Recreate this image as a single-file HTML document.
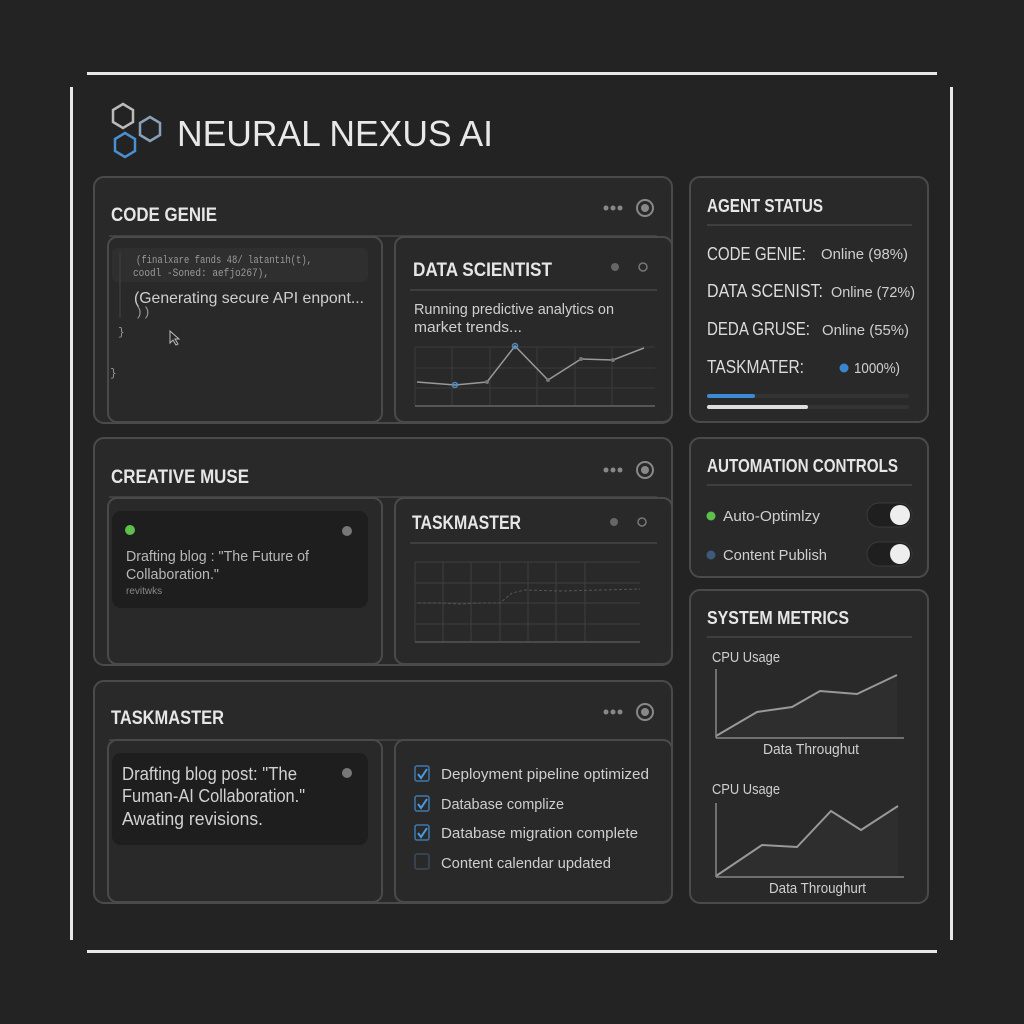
<!DOCTYPE html>
<html><head><meta charset="utf-8"><style>
html,body{margin:0;padding:0;background:#232323;}
svg{display:block}
text{font-family:"Liberation Sans","DejaVu Sans",sans-serif;fill:#d8d8d8}
.t{font-weight:bold;font-size:19px;fill:#e6e6e6}
.s{font-size:15px;fill:#cfcfcf}
.c{font-family:"Liberation Mono",monospace;font-size:11px;fill:#9a9a9a}
</style></head><body>
<svg width="1024" height="1024" viewBox="0 0 1024 1024">
<rect width="1024" height="1024" fill="#232323"/>
<g fill="#e8e8e8">
<rect x="87" y="72" width="850" height="3"/>
<rect x="87" y="950" width="850" height="3"/>
<rect x="70" y="87" width="3" height="853"/>
<rect x="950" y="87" width="3" height="853"/>
</g>
<g fill="none" stroke-width="2.5">
<polygon points="123,104 133,110 133,122 123,128 113,122 113,110" stroke="#bbbbbb"/>
<polygon points="150,117 160,123 160,135 150,141 140,135 140,123" stroke="#8aa0b8"/>
<polygon points="125,133 135,139 135,151 125,157 115,151 115,139" stroke="#4a90d0"/>
</g>
<text x="177" y="146" textLength="316" lengthAdjust="spacingAndGlyphs" style="font-size:36px;fill:#e8e8e8">NEURAL NEXUS AI</text>

<g fill="#292929" stroke="#4a4a4a" stroke-width="2">
<rect x="94" y="177" width="578" height="246" rx="10"/>
<rect x="94" y="438" width="578" height="227" rx="10"/>
<rect x="94" y="681" width="578" height="222" rx="10"/>
<rect x="690" y="177" width="238" height="245" rx="10"/>
<rect x="690" y="438" width="238" height="139" rx="10"/>
<rect x="690" y="590" width="238" height="313" rx="10"/>
</g>
<g stroke="#474747" stroke-width="1.5">
<line x1="109" y1="236" x2="657" y2="236"/>
<line x1="109" y1="497" x2="657" y2="497"/>
<line x1="109" y1="740" x2="657" y2="740"/>
<line x1="707" y1="225" x2="912" y2="225"/>
<line x1="707" y1="485" x2="912" y2="485"/>
<line x1="707" y1="637" x2="912" y2="637"/>
</g>
<g fill="#292929" stroke="#4a4a4a" stroke-width="2">
<rect x="108" y="237" width="274" height="185" rx="9"/>
<rect x="395" y="237" width="277" height="185" rx="9"/>
<rect x="108" y="498" width="274" height="166" rx="9"/>
<rect x="395" y="498" width="277" height="166" rx="9"/>
<rect x="108" y="740" width="274" height="162" rx="9"/>
<rect x="395" y="740" width="277" height="162" rx="9"/>
</g>
<text class="t" x="111" y="221" textLength="106" lengthAdjust="spacingAndGlyphs">CODE GENIE</text>
<text class="t" x="111" y="483" textLength="138" lengthAdjust="spacingAndGlyphs">CREATIVE MUSE</text>
<text class="t" x="111" y="724" textLength="113" lengthAdjust="spacingAndGlyphs">TASKMASTER</text>
<g fill="#888">
<circle cx="606" cy="208" r="2.5"/><circle cx="613" cy="208" r="2.5"/><circle cx="620" cy="208" r="2.5"/>
<circle cx="606" cy="470" r="2.5"/><circle cx="613" cy="470" r="2.5"/><circle cx="620" cy="470" r="2.5"/>
<circle cx="606" cy="712" r="2.5"/><circle cx="613" cy="712" r="2.5"/><circle cx="620" cy="712" r="2.5"/>
<circle cx="645" cy="208" r="4"/><circle cx="645" cy="470" r="4"/><circle cx="645" cy="712" r="4"/>
</g>
<g fill="none" stroke="#888" stroke-width="2">
<circle cx="645" cy="208" r="8"/><circle cx="645" cy="470" r="8"/><circle cx="645" cy="712" r="8"/>
</g>
<rect x="112" y="248" width="256" height="34" rx="6" fill="#2f2f2f"/>
<line x1="120" y1="252" x2="120" y2="318" stroke="#3c3c3c" stroke-width="1.5"/>
<text class="c" x="136" y="263" textLength="176" lengthAdjust="spacingAndGlyphs">(finalxare fands 48/ latantıh(t),</text>
<text class="c" x="133" y="276" textLength="136" lengthAdjust="spacingAndGlyphs">coodl -Soned: aefjo267),</text>
<text x="134" y="303" textLength="230" lengthAdjust="spacingAndGlyphs" style="font-size:16px;fill:#cfcfcf">(Generating secure API enpont...</text>
<text class="c" x="135" y="316" style="font-size:13px">))</text>
<text class="c" x="118" y="335">}</text>
<text class="c" x="110" y="376">}</text>
<path d="M170,331 L170,343 L173,340 L176,345 L178,344 L175,339 L179,339 Z" fill="none" stroke="#bbb" stroke-width="1"/>
<text class="t" x="413" y="276" textLength="139" lengthAdjust="spacingAndGlyphs">DATA SCIENTIST</text>
<circle cx="615" cy="267" r="4" fill="#666"/><circle cx="643" cy="267" r="4" fill="none" stroke="#777" stroke-width="1.5"/>
<line x1="410" y1="290" x2="657" y2="290" stroke="#474747" stroke-width="1.5"/>
<text class="s" x="414" y="314" textLength="200" lengthAdjust="spacingAndGlyphs">Running predictive analytics on</text>
<text class="s" x="414" y="332" textLength="108" lengthAdjust="spacingAndGlyphs">market trends...</text>
<g stroke="#3a3a3a" stroke-width="1">
<line x1="415" y1="347" x2="655" y2="347"/><line x1="415" y1="368" x2="655" y2="368"/><line x1="415" y1="388" x2="655" y2="388"/>
<line x1="415" y1="347" x2="415" y2="406"/><line x1="452" y1="347" x2="452" y2="406"/><line x1="490" y1="347" x2="490" y2="406"/><line x1="537" y1="347" x2="537" y2="406"/><line x1="575" y1="347" x2="575" y2="406"/><line x1="612" y1="347" x2="612" y2="406"/>
</g>
<line x1="415" y1="406" x2="655" y2="406" stroke="#666" stroke-width="1.5"/>
<polyline points="417,382 455,385 487,382 515,346 548,380 581,359 613,360 644,348" fill="none" stroke="#999" stroke-width="1.5"/>
<g fill="none" stroke="#4a8ac8" stroke-width="1.5"><circle cx="455" cy="385" r="2.5"/><circle cx="515" cy="346" r="2.5"/></g>
<g fill="#777"><circle cx="487" cy="382" r="2"/><circle cx="548" cy="380" r="2"/><circle cx="581" cy="359" r="2"/><circle cx="613" cy="360" r="2"/></g>
<rect x="112" y="511" width="256" height="97" rx="9" fill="#1e1e1e"/>
<circle cx="130" cy="530" r="5" fill="#5cc04a"/><circle cx="347" cy="531" r="5" fill="#777"/>
<text x="126" y="561" textLength="183" lengthAdjust="spacingAndGlyphs" style="font-size:15px;fill:#b8b8b8">Drafting blog : "The Future of</text>
<text x="126" y="579" textLength="93" lengthAdjust="spacingAndGlyphs" style="font-size:15px;fill:#b8b8b8">Collaboration."</text>
<text x="126" y="594" style="font-size:10px;fill:#888">revitwks</text>
<text class="t" x="412" y="529" textLength="109" lengthAdjust="spacingAndGlyphs">TASKMASTER</text>
<circle cx="614" cy="522" r="4" fill="#666"/><circle cx="642" cy="522" r="4" fill="none" stroke="#777" stroke-width="1.5"/>
<line x1="410" y1="543" x2="657" y2="543" stroke="#474747" stroke-width="1.5"/>
<g stroke="#3e3e3e" stroke-width="1">
<line x1="415" y1="562" x2="640" y2="562"/><line x1="415" y1="583" x2="640" y2="583"/><line x1="415" y1="603" x2="640" y2="603"/><line x1="415" y1="624" x2="640" y2="624"/>
<line x1="415" y1="562" x2="415" y2="642"/><line x1="443" y1="562" x2="443" y2="642"/><line x1="471" y1="562" x2="471" y2="642"/><line x1="500" y1="562" x2="500" y2="642"/><line x1="528" y1="562" x2="528" y2="642"/><line x1="556" y1="562" x2="556" y2="642"/><line x1="585" y1="562" x2="585" y2="642"/>
</g>
<line x1="415" y1="642" x2="640" y2="642" stroke="#555" stroke-width="1.5"/>
<polyline points="418,603 440,603 460,604 480,603 500,603 512,593 525,590 560,591 600,590 640,589" fill="none" stroke="#555" stroke-width="1" stroke-dasharray="3,2"/>
<rect x="112" y="753" width="256" height="92" rx="9" fill="#1e1e1e"/>
<circle cx="347" cy="773" r="5" fill="#777"/>
<text x="122" y="780" textLength="175" lengthAdjust="spacingAndGlyphs" style="font-size:18px;fill:#d2d2d2">Drafting blog post: "The</text>
<text x="122" y="802" textLength="183" lengthAdjust="spacingAndGlyphs" style="font-size:18px;fill:#d2d2d2">Fuman-AI Collaboration."</text>
<text x="122" y="825" textLength="141" lengthAdjust="spacingAndGlyphs" style="font-size:18px;fill:#d2d2d2">Awating revisions.</text>
<g fill="none" stroke="#3f78ad" stroke-width="1.5">
<rect x="415" y="766" width="14" height="15" rx="2"/>
<rect x="415" y="796" width="14" height="15" rx="2"/>
<rect x="415" y="825" width="14" height="15" rx="2"/>
</g>
<rect x="415" y="854" width="14" height="15" rx="2" fill="none" stroke="#3a4a5a" stroke-width="1.5"/>
<g fill="none" stroke="#4a9ae0" stroke-width="2">
<polyline points="418,774 421,778 427,769"/><polyline points="418,804 421,808 427,799"/><polyline points="418,833 421,837 427,828"/>
</g>
<text class="s" x="441" y="779" textLength="208" lengthAdjust="spacingAndGlyphs">Deployment pipeline optimized</text>
<text class="s" x="441" y="809" textLength="123" lengthAdjust="spacingAndGlyphs">Database complize</text>
<text class="s" x="441" y="838" textLength="197" lengthAdjust="spacingAndGlyphs">Database migration complete</text>
<text class="s" x="441" y="868" textLength="170" lengthAdjust="spacingAndGlyphs">Content calendar updated</text>
<text class="t" x="707" y="212" textLength="116" lengthAdjust="spacingAndGlyphs" style="font-size:18px">AGENT STATUS</text>
<text x="707" y="260" textLength="99" lengthAdjust="spacingAndGlyphs" style="font-size:18px;fill:#dcdcdc">CODE GENIE:</text><text class="s" x="821" y="259" textLength="87" lengthAdjust="spacingAndGlyphs">Online (98%)</text>
<text x="707" y="297" textLength="116" lengthAdjust="spacingAndGlyphs" style="font-size:18px;fill:#dcdcdc">DATA SCENIST:</text><text class="s" x="831" y="297" textLength="84" lengthAdjust="spacingAndGlyphs">Online (72%)</text>
<text x="707" y="335" textLength="103" lengthAdjust="spacingAndGlyphs" style="font-size:18px;fill:#dcdcdc">DEDA GRUSE:</text><text class="s" x="822" y="335" textLength="87" lengthAdjust="spacingAndGlyphs">Online (55%)</text>
<text x="707" y="373" textLength="97" lengthAdjust="spacingAndGlyphs" style="font-size:18px;fill:#dcdcdc">TASKMATER:</text>
<circle cx="844" cy="368" r="4.5" fill="#3a86cc"/><text class="s" x="854" y="373" textLength="46" lengthAdjust="spacingAndGlyphs">1000%)</text>
<rect x="707" y="394" width="202" height="4" rx="2" fill="#333"/>
<rect x="707" y="394" width="48" height="4" rx="2" fill="#3a8ad4"/>
<rect x="707" y="405" width="202" height="4" rx="2" fill="#333"/>
<rect x="707" y="405" width="101" height="4" rx="2" fill="#ddd"/>
<text class="t" x="707" y="472" textLength="191" lengthAdjust="spacingAndGlyphs" style="font-size:18px">AUTOMATION CONTROLS</text>
<circle cx="711" cy="516" r="4.5" fill="#5cc04a"/><text class="s" x="723" y="521" textLength="97" lengthAdjust="spacingAndGlyphs">Auto-Optimlzy</text>
<circle cx="711" cy="555" r="4.5" fill="#3d5a7a"/><text class="s" x="723" y="560" textLength="104" lengthAdjust="spacingAndGlyphs">Content Publish</text>
<rect x="867" y="503" width="45" height="24" rx="12" fill="#1f1f1f" stroke="#3a3a3a"/>
<circle cx="900" cy="515" r="10" fill="#eeeeee"/>
<rect x="867" y="542" width="45" height="24" rx="12" fill="#1f1f1f" stroke="#3a3a3a"/>
<circle cx="900" cy="554" r="10" fill="#eeeeee"/>
<text class="t" x="707" y="624" textLength="142" lengthAdjust="spacingAndGlyphs" style="font-size:18px">SYSTEM METRICS</text>
<text x="712" y="662" textLength="68" lengthAdjust="spacingAndGlyphs" style="font-size:15px;fill:#cfcfcf">CPU Usage</text>
<polygon points="716,736 757,712 792,707 820,691 857,694 897,675 897,737 716,737" fill="#2e2e2e"/>
<polyline points="716,736 757,712 792,707 820,691 857,694 897,675" fill="none" stroke="#999" stroke-width="2"/>
<line x1="716" y1="669" x2="716" y2="738" stroke="#888" stroke-width="1.5"/>
<line x1="716" y1="738" x2="904" y2="738" stroke="#888" stroke-width="1.5"/>
<text x="763" y="754" textLength="96" lengthAdjust="spacingAndGlyphs" style="font-size:15px;fill:#cfcfcf">Data Throughut</text>
<text x="712" y="794" textLength="68" lengthAdjust="spacingAndGlyphs" style="font-size:15px;fill:#cfcfcf">CPU Usage</text>
<polygon points="716,876 762,845 797,847 831,811 861,830 898,806 898,876" fill="#2e2e2e"/>
<polyline points="716,876 762,845 797,847 831,811 861,830 898,806" fill="none" stroke="#999" stroke-width="2"/>
<line x1="716" y1="803" x2="716" y2="877" stroke="#888" stroke-width="1.5"/>
<line x1="716" y1="877" x2="904" y2="877" stroke="#888" stroke-width="1.5"/>
<text x="769" y="893" textLength="97" lengthAdjust="spacingAndGlyphs" style="font-size:15px;fill:#cfcfcf">Data Throughurt</text>
</svg>
</body></html>
